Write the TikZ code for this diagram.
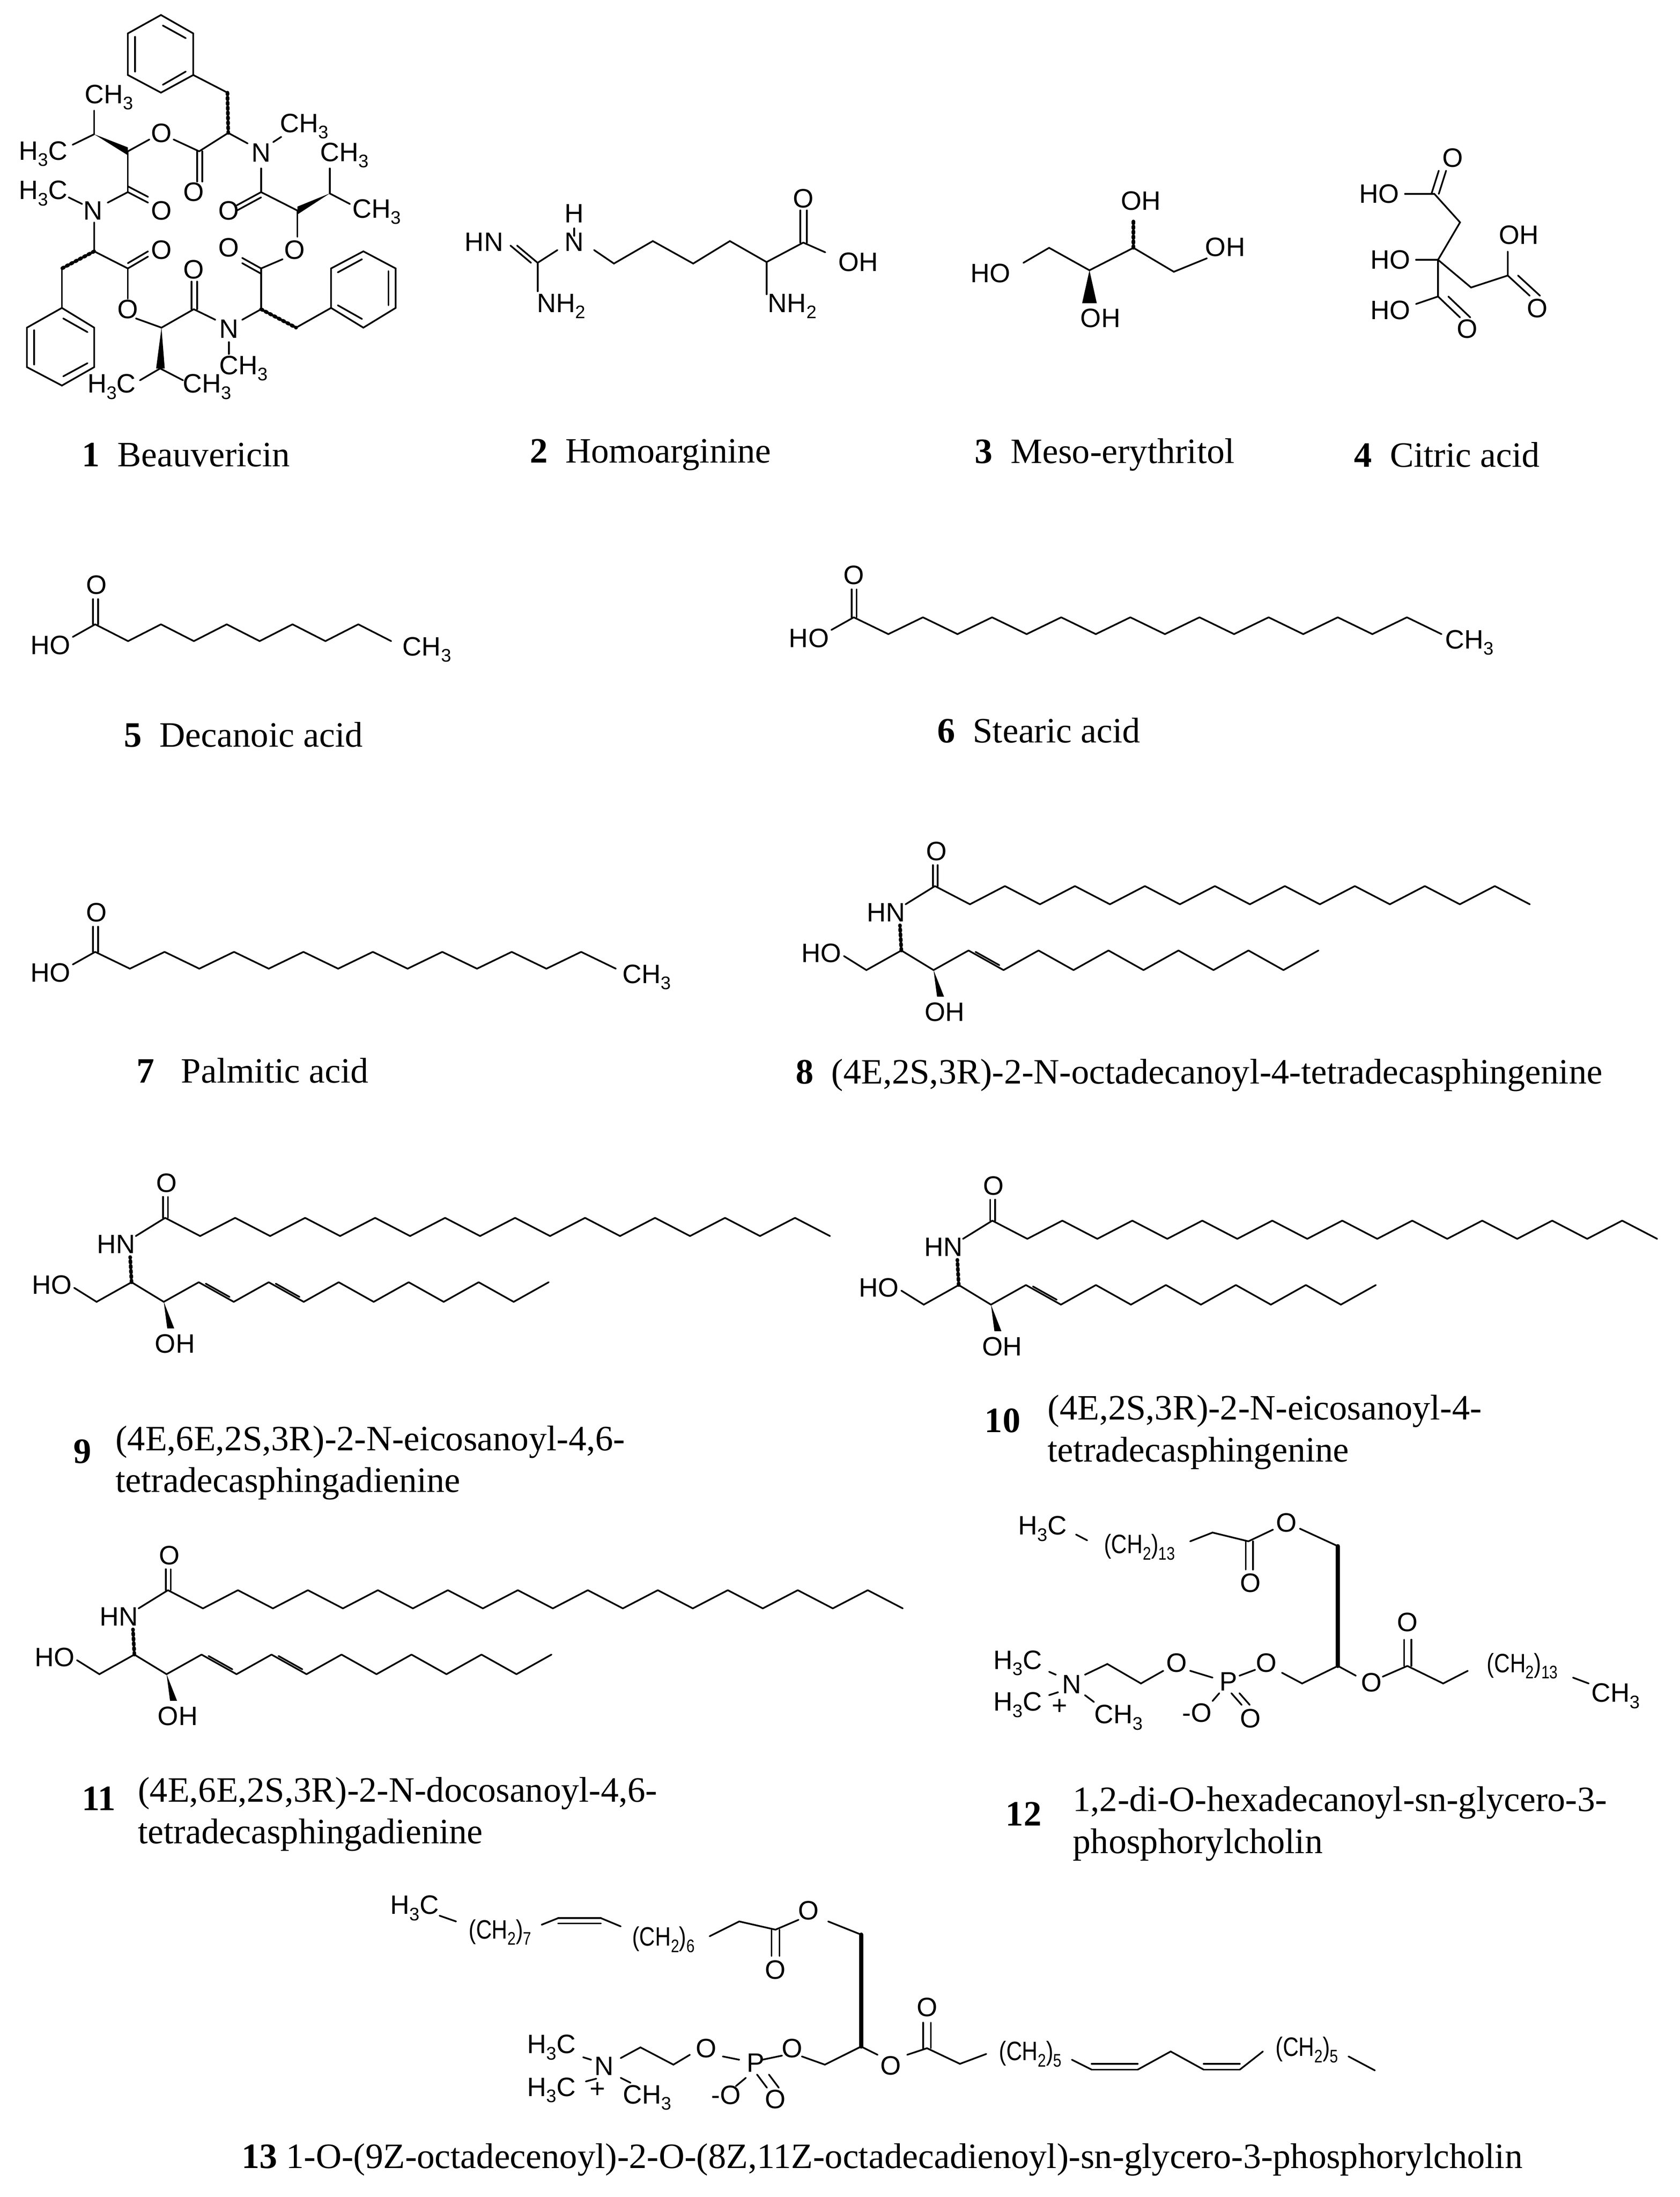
\documentclass[tikz,border=0pt]{standalone}
\usepackage{fontspec}
\setmainfont{Liberation Serif}
\newfontfamily\af{Liberation Sans}
\newcommand\atomfont{\af\fontsize{19}{19}\selectfont}
\newcommand\sbs[1]{\raisebox{-0.45ex}{\fontsize{13}{13}\selectfont #1}}
\newcommand\cn[1]{\scalebox{0.82}[1]{#1}}
\newcommand\zz[5]{\foreach \i in {1,...,#3}{\draw ({#1+(\i-1)*#4},{#2+ifthenelse(isodd(\i),0,(#5))}) -- ({#1+\i*#4},{#2+ifthenelse(isodd(\i),(#5),0)});}}
\newcommand\db[6]{\draw (#1,#2)--(#3,#4); \draw ({#1+#5},{#2+#6})--({#3+#5},{#4+#6});}
\tikzset{
  atom/.style={font=\atomfont,inner sep=0pt},
  capt/.style={font=\fontsize{25.5}{30}\selectfont,inner sep=0pt,anchor=west,align=left},
  hashb/.style={line width=2.6pt,dash pattern=on 1.3pt off 2.2pt},
  boldb/.style={line width=3pt}
}
\newcommand\sph[5]{%
\begin{scope}[shift={(#1,#2)}]
\node[atom] (ho#1) at (0,0) {HO};
\draw (16,2)--(32,12)--(57,-2)--(80,12);
\fill (80,12)--(82.5,31)--(87.5,31)--cycle;
\node[atom] (oh#1) at (88,42) {OH};
\draw[hashb] (57,-2)--(56,-20);
\node[atom] (hn#1) at (46,-29) {HN};
\draw (60,-35)--(81,-48);
\db{79.5}{-48}{79.5}{-63}{3.5}{0}
\node[atom] (o#1) at (82,-73) {O};
\zz{81}{-48}{#3}{25}{13}
\zz{80}{12}{#4}{25}{-14}
\draw (110,-1)--(127,8.5);
\ifnum#5=1 \draw (160,-1)--(177,8.5); \fi
\end{scope}}
\begin{document}
\begin{tikzpicture}[x=1pt,y=-1pt,line width=1.2pt,line cap=round]
\useasboundingbox (0,0) rectangle (1200,1569.5);
\fill[white] (0,0) rectangle (1200,1569.5);
% ---------- 1 Beauvericin
\begin{scope}[xscale=0.1923,yscale=0.1880]
\draw (598,57)--(718,127)--(718,285)--(598,352)--(475,285)--(475,127)--cycle;
\draw (605,97)--(690,145); \draw (502,140)--(502,272); \draw (605,322)--(690,272);
\draw (718,285)--(845,352);
\draw[hashb] (845,352)--(848,505);
\draw (848,505)--(740,575);
\db{732}{575}{732}{690}{20}{0}
\draw (740,575)--(645,530); \draw (555,530)--(475,575);
\fill (350,510)--(475,560)--(475,590)--cycle;
\draw (350,510)--(350,420); \draw (350,510)--(270,550);
\draw (475,575)--(475,730);
\db{475}{730}{550}{770}{0}{-22}
\draw (475,730)--(400,770); \draw (305,775)--(255,750);
\draw (350,845)--(350,955)--(475,1020);
\draw[hashb] (350,955)--(230,1020);
\draw (230,1020)--(230,1170);
\draw (230,1170)--(350,1245)--(350,1395)--(230,1465)--(100,1395)--(100,1245)--cycle;
\draw (235,1210)--(325,1262); \draw (127,1255)--(127,1385); \draw (235,1430)--(325,1380);
\db{475}{1020}{550}{975}{0}{-20}
\draw (475,1020)--(475,1135); \draw (505,1210)--(600,1245);
\fill (600,1245)--(580,1400)--(612,1400)--cycle;
\draw (595,1400)--(520,1445); \draw (595,1400)--(680,1445);
\draw (600,1245)--(720,1175);
\db{712}{1175}{712}{1070}{20}{0}
\draw (720,1175)--(800,1215); \draw (850,1300)--(850,1345); \draw (900,1215)--(970,1175);
\draw[hashb] (970,1175)--(1100,1245);
\draw (1100,1245)--(1230,1170);
\draw (1230,1020)--(1350,955)--(1470,1020)--(1470,1170)--(1350,1245)--(1230,1170)--cycle;
\draw (1255,1035)--(1345,985); \draw (1443,1030)--(1443,1160); \draw (1255,1160)--(1345,1212);
\draw (970,1175)--(970,1020);
\db{970}{1020}{900}{980}{0}{20}
\draw (970,1020)--(1050,985); \draw (1105,900)--(1105,800);
\fill (1225,735)--(1105,785)--(1105,815)--cycle;
\draw (1225,735)--(1225,640); \draw (1225,735)--(1300,775);
\draw (1105,800)--(970,730);
\db{970}{730}{880}{780}{0}{20}
\draw (970,730)--(970,640); \draw (1015,540)--(1045,520); \draw (920,545)--(848,505);
\node[atom] (b1) at (405,370) {CH\sbs3};
\node[atom] (b2) at (160,585) {H\sbs3C};
\node[atom] (b3) at (600,505) {O};
\node[atom] (b4) at (720,730) {O};
\node[atom] (b5) at (160,735) {H\sbs3C};
\node[atom] (b6) at (345,800) {N};
\node[atom] (b7) at (600,800) {O};
\node[atom] (b8) at (1130,480) {CH\sbs3};
\node[atom] (b9) at (970,580) {N};
\node[atom] (b10) at (1280,590) {CH\sbs3};
\node[atom] (b11) at (850,800) {O};
\node[atom] (b12) at (1400,805) {CH\sbs3};
\node[atom] (b13) at (850,940) {O};
\node[atom] (b14) at (1095,950) {O};
\node[atom] (b15) at (600,950) {O};
\node[atom] (b16) at (720,1025) {O};
\node[atom] (b17) at (475,1175) {O};
\node[atom] (b18) at (850,1250) {N};
\node[atom] (b19) at (905,1400) {CH\sbs3};
\node[atom] (b20) at (415,1470) {H\sbs3C};
\node[atom] (b21) at (770,1470) {CH\sbs3};
\end{scope}
% ---------- 2,3,4
\begin{scope}[shift={(317,100)},xscale=0.5243,yscale=0.1070]
\db{128}{820}{100}{705}{-9}{0}
\draw (128,820)--(155,735); \draw (128,820)--(128,1010); \draw (178,590)--(178,640);
\draw (205,735)--(232,825)--(285,675)--(340,825)--(390,675)--(440,815)--(490,685);
\db{486}{685}{486}{470}{9}{0}
\draw (490,685)--(520,750); \draw (440,815)--(440,1030);
\node[atom] (h1) at (55,680) {HN};
\node[atom] (h2) at (178,490) {H};
\node[atom] (h3) at (178,680) {N};
\node[atom] (h4) at (160,1110) {NH\sbs2};
\node[atom] (h5) at (490,390) {O};
\node[atom] (h6) at (565,815) {OH};
\node[atom] (h7) at (475,1110) {NH\sbs2};
\draw (790,820)--(825,720)--(880,870)--(940,720)--(995,880)--(1040,790);
\fill (880,870)--(870,1090)--(890,1090)--cycle;
\draw[hashb] (940,720)--(940,540);
\node[atom] (e1) at (745,890) {HO};
\node[atom] (e2) at (895,1190) {OH};
\node[atom] (e3) at (950,405) {OH};
\node[atom] (e4) at (1065,715) {OH};
\draw (1310,360)--(1350,360);
\db{1346}{360}{1356}{205}{10}{0}
\draw (1350,360)--(1385,550)--(1355,800);
\draw (1325,800)--(1355,800)--(1355,1045);
\draw (1325,1095)--(1355,1045);
\db{1355}{1045}{1385}{1185}{14}{0}
\draw (1355,800)--(1400,985)--(1450,905)--(1450,745);
\db{1450}{905}{1480}{1040}{14}{0}
\node[atom] (c1) at (1275,360) {HO};
\node[atom] (c2) at (1375,120) {O};
\node[atom] (c3) at (1290,800) {HO};
\node[atom] (c4) at (1465,635) {OH};
\node[atom] (c5) at (1290,1135) {HO};
\node[atom] (c6) at (1395,1260) {O};
\node[atom] (c7) at (1490,1125) {O};
\end{scope}
% ---------- 5,6,7
\node[atom] (d1) at (36,461) {HO};
\draw (52,455)--(68,446); \db{66.5}{446}{66.5}{428}{3.5}{0}
\node[atom] (d2) at (69,418) {O};
\zz{68}{446}{9}{23.5}{12}
\node[atom] (d3) at (305,464) {CH\sbs3};
\node[atom] (s1) at (578,456) {HO};
\draw (594,450)--(610,441); \db{608.5}{441}{608.5}{421}{3.5}{0}
\node[atom] (s2) at (610,411) {O};
\zz{610}{441}{17}{24.7}{12}
\node[atom] (s3) at (1050,459) {CH\sbs3};
\node[atom] (p1) at (36,695) {HO};
\draw (52,689)--(68,680); \db{66.5}{680}{66.5}{662}{3.5}{0}
\node[atom] (p2) at (69,652) {O};
\zz{68}{680}{15}{24.8}{12}
\node[atom] (p3) at (462,698) {CH\sbs3};
% ---------- sphingolipids
\sph{587}{681}{17}{11}{0}
\sph{37}{918}{19}{11}{1}
\sph{628}{920}{19}{11}{0}
\sph{39}{1184}{21}{11}{1}
% ---------- 12
\begin{scope}[shift={(700,1067.7)},xscale=0.3199,yscale=0.1391]
\draw (215,205)--(240,235);
\draw (470,240)--(520,195)--(600,240);
\db{594}{240}{594}{385}{16}{0}
\draw (600,240)--(655,180); \draw (715,175)--(800,265);
\draw[boldb] (800,265)--(800,880);
\draw (800,880)--(720,970)--(675,915);
\draw (580,930)--(615,900); \draw (520,940)--(470,905);
\draw (410,905)--(360,970)--(285,870)--(235,925);
\draw (170,925)--(155,910); \draw (175,1015)--(155,1030); \draw (235,1030)--(255,1065);
\draw (535,1020)--(520,1060);
\db{562}{1020}{585}{1080}{18}{0}
\draw (800,880)--(840,930); \draw (900,935)--(955,880);
\db{948}{880}{948}{745}{16}{0}
\draw (955,880)--(1035,970)--(1090,905); \draw (1325,940)--(1360,970);
\node[atom] (g1) at (140,175) {H\sbs3C};
\node[atom] (g2) at (357,270) {\cn{(CH\sbs2)\sbs{13}}};
\node[atom] (g3) at (685,145) {O};
\node[atom] (g4) at (605,455) {O};
\node[atom] (g5) at (85,865) {H\sbs3C};
\node[atom] (g6) at (85,1080) {H\sbs3C};
\node[atom] (g7) at (205,975) {N};
\node[atom] (g8) at (178,1090) {+};
\node[atom] (g9) at (310,1145) {CH\sbs3};
\node[atom] (g10) at (440,865) {O};
\node[atom] (g11) at (555,960) {P};
\node[atom] (g12) at (485,1120) {-O};
\node[atom] (g13) at (605,1150) {O};
\node[atom] (g14) at (640,865) {O};
\node[atom] (g15) at (875,965) {O};
\node[atom] (g16) at (955,655) {O};
\node[atom] (g17) at (1212,880) {\cn{(CH\sbs2)\sbs{13}}};
\node[atom] (g18) at (1420,1035) {CH\sbs3};
\end{scope}
% ---------- 13
\begin{scope}[shift={(267,1335)},xscale=0.4706,yscale=0.1176]
\draw (100,285)--(125,320); \draw (255,340)--(280,300);
\db{280}{300}{345}{300}{0}{32}
\draw (345,300)--(375,350);
\draw (510,410)--(555,320)--(610,370);
\db{604}{370}{604}{530}{12}{0}
\draw (610,370)--(645,310); \draw (690,320)--(740,400);
\draw[boldb] (740,400)--(740,1080);
\draw (740,1080)--(685,1190)--(650,1140);
\draw (590,1160)--(620,1135); \draw (555,1160)--(530,1140);
\draw (480,1130)--(455,1190)--(405,1085)--(375,1150);
\draw (330,1160)--(318,1145); \draw (338,1275)--(322,1292); \draw (375,1270)--(390,1300);
\draw (565,1270)--(550,1320);
\db{582}{1250}{597}{1330}{18}{0}
\draw (740,1080)--(765,1130); \draw (810,1130)--(840,1090);
\db{834}{1090}{834}{935}{12}{0}
\draw (840,1090)--(890,1185)--(930,1125);
\draw (1060,1160)--(1090,1220);
\db{1090}{1220}{1160}{1220}{0}{-35}
\draw (1160,1220)--(1210,1110)--(1260,1220);
\db{1260}{1220}{1315}{1220}{0}{-35}
\draw (1315,1220)--(1350,1110); \draw (1480,1140)--(1520,1225);
\node[atom] (k1) at (62,240) {H\sbs3C};
\node[atom] (k2) at (192,385) {\cn{(CH\sbs2)\sbs7}};
\node[atom] (k3) at (440,430) {\cn{(CH\sbs2)\sbs6}};
\node[atom] (k4) at (660,255) {O};
\node[atom] (k5) at (610,615) {O};
\node[atom] (k6) at (270,1085) {H\sbs3C};
\node[atom] (k7) at (270,1345) {H\sbs3C};
\node[atom] (k8) at (350,1200) {N};
\node[atom] (k9) at (340,1345) {+};
\node[atom] (k10) at (415,1390) {CH\sbs3};
\node[atom] (k11) at (505,1090) {O};
\node[atom] (k12) at (580,1180) {P};
\node[atom] (k13) at (535,1375) {-O};
\node[atom] (k14) at (610,1400) {O};
\node[atom] (k15) at (635,1090) {O};
\node[atom] (k16) at (785,1195) {O};
\node[atom] (k17) at (840,840) {O};
\node[atom] (k18) at (997,1125) {\cn{(CH\sbs2)\sbs5}};
\node[atom] (k19) at (1417,1100) {\cn{(CH\sbs2)\sbs5}};
\end{scope}
% ---------- captions
\node[capt] (t1) at (58,325) {\textbf{1}\ \ Beauvericin};
\node[capt] (t2) at (378,325) {\textbf{2}\ \ Homoarginine};
\node[capt] (t3) at (696,325) {\textbf{3}\ \ Meso-erythritol};
\node[capt] (t4) at (967,325) {\textbf{4}\ \ Citric acid};
\node[capt] (t5) at (88,525) {\textbf{5}\ \ Decanoic acid};
\node[capt] (t6) at (669,522) {\textbf{6}\ \ Stearic acid};
\node[capt] (t7) at (97,765) {\textbf{7}\ \ \ Palmitic acid};
\node[capt] (t8) at (568,768) {\textbf{8}\ \ (4E,2S,3R)-2-N-octadecanoyl-4-tetradecasphingenine};
\node[capt] (t9n) at (52,1037) {\textbf{9}};
\node[capt] (t9) at (82,1045) {(4E,6E,2S,3R)-2-N-eicosanoyl-4,6-\\tetradecasphingadienine};
\node[capt] (t10n) at (703,1015) {\textbf{10}};
\node[capt] (t10) at (748,1023) {(4E,2S,3R)-2-N-eicosanoyl-4-\\tetradecasphingenine};
\node[capt] (t11n) at (58,1285) {\textbf{11}};
\node[capt] (t11) at (98,1296) {(4E,6E,2S,3R)-2-N-docosanoyl-4,6-\\tetradecasphingadienine};
\node[capt] (t12n) at (718,1296) {\textbf{12}};
\node[capt] (t12) at (766,1303) {1,2-di-O-hexadecanoyl-sn-glycero-3-\\phosphorylcholin};
\node[capt] (t13) at (172,1543) {\textbf{13}\ 1-O-(9Z-octadecenoyl)-2-O-(8Z,11Z-octadecadienoyl)-sn-glycero-3-phosphorylcholin};
\end{tikzpicture}
\end{document}
